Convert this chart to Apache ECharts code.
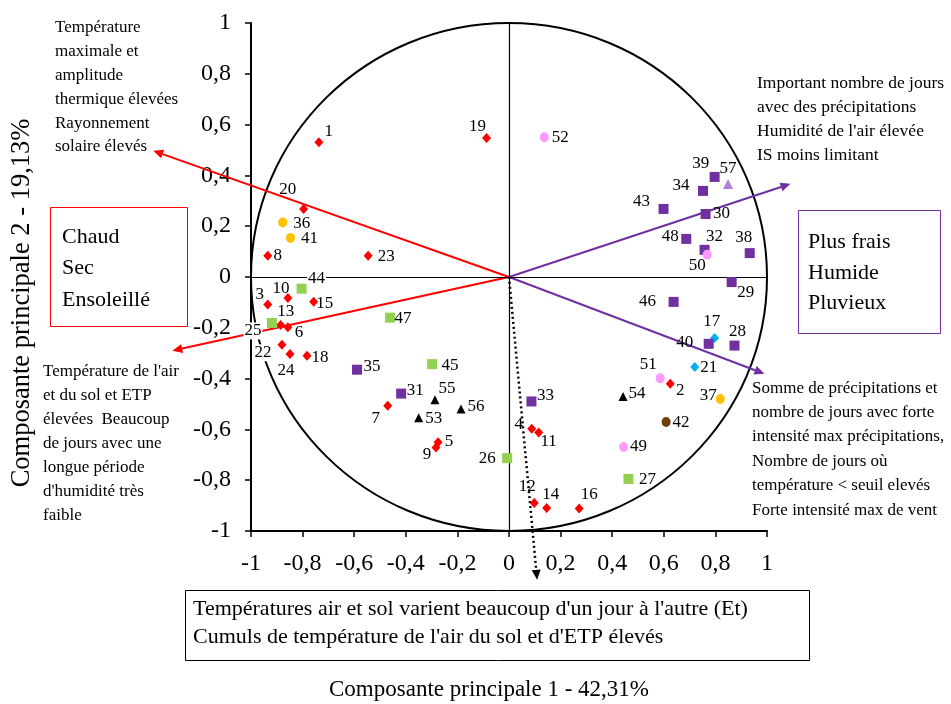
<!DOCTYPE html>
<html><head><meta charset="utf-8">
<script src="https://cdn.jsdelivr.net/npm/echarts@6/dist/echarts.min.js"></script>
<style>html,body{margin:0;padding:0;background:#fff}#c{width:951px;height:704px}</style>
</head><body><div id="c"></div>
<script>
// ---- data (component scores) ----
const redIds = [1,2,3,4,5,6,7,8,9,10,11,12,13,14,15,16,18,19,20,22,23,24];
const redX = [-0.737,0.625,-0.935,0.088,-0.275,-0.857,-0.470,-0.935,-0.283,-0.857,0.115,0.098,-0.885,0.146,-0.757,0.272,-0.783,-0.087,-0.796,-0.880,-0.546,-0.849];
const redY = [0.531,-0.420,-0.108,-0.597,-0.651,-0.198,-0.507,0.084,-0.671,-0.083,-0.612,-0.890,-0.189,-0.909,-0.097,-0.911,-0.310,0.547,0.268,-0.267,0.084,-0.303];

const cyanIds = [17,21];
const cyanX = [0.797,0.720];
const cyanY = [-0.240,-0.354];

const greenIds = [25,26,27,44,45,47];
const greenX = [-0.919,-0.007,0.463,-0.804,-0.298,-0.461];
const greenY = [-0.181,-0.713,-0.795,-0.046,-0.343,-0.160];

const purpleIds = [28,29,30,31,32,33,34,35,38,39,40,43,46,48];
const purpleX = [0.874,0.863,0.762,-0.418,0.758,0.087,0.752,-0.589,0.933,0.797,0.774,0.599,0.638,0.687];
const purpleY = [-0.270,-0.020,0.248,-0.459,0.107,-0.490,0.339,-0.365,0.094,0.394,-0.263,0.268,-0.098,0.150];

const orangeIds = [36,37,41];
const orangeX = [-0.877,0.819,-0.847];
const orangeY = [0.215,-0.480,0.154];

const brownIds = [42];
const brownX = [0.609];
const brownY = [-0.571];

const pinkIds = [49,50,51,52];
const pinkX = [0.444,0.768,0.586,0.137];
const pinkY = [-0.669,0.088,-0.399,0.550];

const blackIds = [53,54,55,56];
const blackX = [-0.350,0.442,-0.287,-0.186];
const blackY = [-0.554,-0.470,-0.483,-0.520];

const lilacIds = [57];
const lilacX = [0.849];
const lilacY = [0.366];

// variable vectors (arrow ends, origin at 0,0)
const arrowX = [-1.379,-1.305,1.091,0.990,0.109];
const arrowY = [0.497,-0.290,0.367,-0.381,-1.192];

// unit correlation circle
const circleCenter = [0,0];
const circleRadius = 1;

// tick values
const tickMin = -1, tickMax = 1, tickStep = 0.2;

// ---- styling (kept separate from data) ----
const arrowColors = ['#ff0000','#ff0000','#7030a0','#7030a0','#000000'];
const arrowDotted = [false,false,false,false,true];
const labelOffsets = {1:[10,-11],2:[10,7],3:[-8,-10],4:[-13,-4],5:[11,-1],6:[11,5],7:[-12,13],8:[10,0],9:[-9,7],10:[-7,-10],
11:[10,9],12:[-7,-17],13:[5,-13],14:[4,-13],15:[11,2],16:[10,-14],17:[-3,-16],18:[13,2],19:[-9,-12],20:[-16,-19],
21:[14,1],22:[-19,8],23:[18,1],24:[-4,17],25:[-19,8],26:[-20,0],27:[19,1],28:[3,-14],29:[14,10],30:[16,0],
31:[14,-3],32:[10,-13],33:[14,-6],34:[-22,-5],35:[15,-3],36:[19,1],37:[-12,-3],38:[-6,-16],39:[-14,-13],40:[-24,-1],
41:[19,1],42:[15,0],43:[-22,-7],44:[15,-10],45:[18,1],46:[-26,0],47:[13,1],48:[-16,-2],49:[15,0],50:[-10,11],
51:[-12,-14],52:[16,0],53:[15,1],54:[14,-3],55:[12,-11],56:[15,-3],57:[0,-16]};
const whiteBgLabels = [44,25,22];
const FONT = '"Liberation Serif","Times New Roman",serif';

function pts(name, ids, xs, ys, symbol, size, color) {
  return {
    type: 'scatter', name, symbol, symbolSize: size, z: 5,
    itemStyle: { color, opacity: 1 },
    label: { show: true, position: 'inside', formatter: p => p.name, color: '#000', fontFamily: FONT, fontSize: 17 },
    emphasis: { disabled: true },
    data: ids.map((id, i) => ({
      value: [xs[i], ys[i]], name: String(id),
      label: Object.assign({ offset: labelOffsets[id] || [12, 0] },
        whiteBgLabels.includes(id) ? { backgroundColor: '#fff', padding: [0, 1] } : {})
    }))
  };
}

const fmt = v => String(Math.round(v * 10) / 10).replace('.', ',');

const chart = echarts.init(document.getElementById('c'), null, { renderer: 'canvas' });

const option = {
  animation: false,
  backgroundColor: '#fff',
  grid: { left: 251, right: 184, top: 23, bottom: 173, containLabel: false },
  xAxis: {
    type: 'value', min: tickMin, max: tickMax, interval: tickStep, position: 'bottom',
    axisLine: { onZero: false, lineStyle: { color: '#000', width: 2 } },
    axisTick: { inside: false, length: 6, lineStyle: { color: '#000', width: 1.5 } },
    axisLabel: { formatter: fmt, fontSize: 24, fontFamily: FONT, color: '#000', margin: 21 },
    splitLine: { show: false }
  },
  yAxis: {
    type: 'value', min: tickMin, max: tickMax, interval: tickStep, position: 'left',
    axisLine: { onZero: false, lineStyle: { color: '#000', width: 2 } },
    axisTick: { inside: false, length: 6, lineStyle: { color: '#000', width: 1.5 } },
    axisLabel: { formatter: fmt, fontSize: 24, fontFamily: FONT, color: '#000', margin: 20 },
    splitLine: { show: false }
  },
  series: [
    {
      type: 'custom', name: 'circle', z: 1, clip: false, silent: true,
      data: [[circleCenter[0], circleCenter[1], circleRadius]],
      renderItem: function (params, api) {
        const c = api.coord([api.value(0), api.value(1)]);
        const s = api.size([api.value(2), api.value(2)]);
        return { type: 'ellipse', shape: { cx: c[0], cy: c[1], rx: s[0], ry: s[1] },
          style: { fill: 'none', stroke: '#000', lineWidth: 2 } };
      },
      markLine: {
        silent: true, symbol: ['none', 'none'], label: { show: false }, animation: false,
        lineStyle: { color: '#000', width: 1.2, type: 'solid' },
        emphasis: { disabled: true },
        data: [{ xAxis: 0 }, { yAxis: 0 }]
      }
    },
    {
      type: 'custom', name: 'vectors', z: 3, clip: false, silent: true,
      data: arrowX.map((x, i) => [x, arrowY[i], i]),
      renderItem: function (params, api) {
        const i = api.value(2);
        const p0 = api.coord([0, 0]);
        const p1 = api.coord([api.value(0), api.value(1)]);
        const dx = p1[0] - p0[0], dy = p1[1] - p0[1];
        const len = Math.sqrt(dx * dx + dy * dy);
        const ux = dx / len, uy = dy / len;
        const L = 10, W = 4.5;
        const bx = p1[0] - ux * L, by = p1[1] - uy * L;
        const col = arrowColors[i];
        return {
          type: 'group',
          children: [
            { type: 'line', shape: { x1: p0[0], y1: p0[1], x2: bx, y2: by },
              style: { stroke: col, lineWidth: arrowDotted[i] ? 2.5 : 2, lineDash: arrowDotted[i] ? [2, 3] : null } },
            { type: 'polygon', shape: { points: [[p1[0], p1[1]], [bx - uy * W, by + ux * W], [bx + uy * W, by - ux * W]] },
              style: { fill: col } }
          ]
        };
      }
    },
    pts('rouge', redIds, redX, redY, 'diamond', [9, 10], '#ff0000'),
    pts('bleu', cyanIds, cyanX, cyanY, 'diamond', [9, 10], '#00b0f0'),
    pts('vert', greenIds, greenX, greenY, 'rect', [10, 10], '#92d050'),
    pts('violet', purpleIds, purpleX, purpleY, 'rect', [10, 10], '#7030a0'),
    pts('orange', orangeIds, orangeX, orangeY, 'circle', [9, 10], '#ffc000'),
    pts('brun', brownIds, brownX, brownY, 'circle', [9, 10], '#6f3f0a'),
    pts('rose', pinkIds, pinkX, pinkY, 'circle', [9, 10], '#ff99ff'),
    pts('noir', blackIds, blackX, blackY, 'triangle', [9, 9], '#000000'),
    pts('lilas', lilacIds, lilacX, lilacY, 'triangle', [10, 10], '#b080e0')
  ],
  graphic: [
    { type: 'text', z: 10, style: { x: 55, y: 16, text: 'Température\nmaximale et\namplitude\nthermique élevées\nRayonnement\nsolaire élevés',
      fontFamily: FONT, fontSize: 17, lineHeight: 23.8, fill: '#000', verticalAlign: 'top' } },
    { type: 'text', z: 10, style: { x: 757, y: 71, text: 'Important nombre de jours\navec des précipitations\nHumidité de l\'air élevée\nIS moins limitant',
      fontFamily: FONT, fontSize: 17.5, lineHeight: 24, fill: '#000', verticalAlign: 'top' } },
    { type: 'text', z: 10, style: { x: 43, y: 360, text: 'Température de l\'air\net du sol et ETP\nélevées  Beaucoup\nde jours avec une\nlongue période\nd\'humidité très\nfaible',
      fontFamily: FONT, fontSize: 17, lineHeight: 24, fill: '#000', verticalAlign: 'top' } },
    { type: 'text', z: 10, style: { x: 752, y: 376, text: 'Somme de précipitations et\nnombre de jours avec forte\nintensité max précipitations,\nNombre de jours où\ntempérature < seuil elevés\nForte intensité max de vent',
      fontFamily: FONT, fontSize: 17, lineHeight: 24.4, fill: '#000', verticalAlign: 'top' } },
    { type: 'rect', z: 10, shape: { x: 50.5, y: 207.5, width: 137, height: 119 }, style: { fill: '#fff', stroke: '#ff0000', lineWidth: 1 } },
    { type: 'text', z: 11, style: { x: 62, y: 221, text: 'Chaud\nSec\nEnsoleillé', fontFamily: FONT, fontSize: 22, lineHeight: 31.5, fill: '#000', verticalAlign: 'top' } },
    { type: 'rect', z: 10, shape: { x: 798.5, y: 210.5, width: 142, height: 123 }, style: { fill: '#fff', stroke: '#7030a0', lineWidth: 1 } },
    { type: 'text', z: 11, style: { x: 808, y: 227, text: 'Plus frais\nHumide\nPluvieux', fontFamily: FONT, fontSize: 22, lineHeight: 30.5, fill: '#000', verticalAlign: 'top' } },
    { type: 'rect', z: 10, shape: { x: 185.5, y: 590.5, width: 624, height: 70 }, style: { fill: '#fff', stroke: '#000', lineWidth: 1 } },
    { type: 'text', z: 11, style: { x: 193, y: 595, text: 'Températures air et sol varient beaucoup d\'un jour à l\'autre (Et)\nCumuls de température de l\'air du sol et d\'ETP élevés',
      fontFamily: FONT, fontSize: 22, lineHeight: 28, fill: '#000', verticalAlign: 'top' } },
    { type: 'text', z: 10, style: { x: 489, y: 690, text: 'Composante principale 1 - 42,31%', fontFamily: FONT, fontSize: 23, fill: '#000', align: 'center', verticalAlign: 'middle' } },
    { type: 'text', z: 10, x: 22, y: 303, rotation: Math.PI / 2,
      style: { x: 0, y: 0, text: 'Composante principale 2 - 19,13%', fontFamily: FONT, fontSize: 26.5, fill: '#000', align: 'center', verticalAlign: 'middle' } }
  ]
};
chart.setOption(option);
</script>
</body></html>
